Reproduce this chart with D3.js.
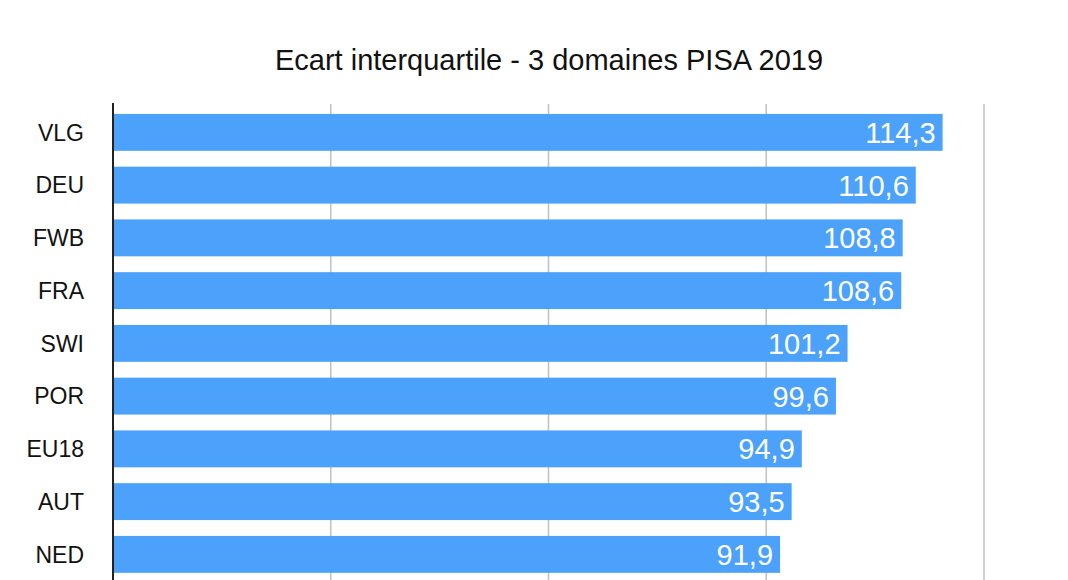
<!DOCTYPE html>
<html>
<head>
<meta charset="utf-8">
<script src="https://cdn.jsdelivr.net/npm/d3@7"></script>
<style>
  body { margin: 0; background: #fff; }
  text { font-family: 'Liberation Sans', Helvetica, Arial, sans-serif; }
</style>
</head>
<body>
<div id="chart"></div>
<script>
const countries = ['VLG', 'DEU', 'FWB', 'FRA', 'SWI', 'POR', 'EU18', 'AUT', 'NED']
const values = [114.3, 110.6, 108.8, 108.6, 101.2, 99.6, 94.9, 93.5, 91.9]
const gridTicks = [30, 60, 90, 120]

const width = 1068
const height = 580

const svg = d3
  .select('#chart')
  .append('svg')
  .attr('width', width)
  .attr('height', height)

const x = d3.scaleLinear().domain([0, 120]).range([113, 984])
const y = d3
  .scaleBand()
  .domain(countries)
  .range([106, 580.75])
  .paddingInner(0.3)
  .paddingOuter(0.15)

// title
svg
  .append('text')
  .attr('x', 549)
  .attr('y', 70)
  .attr('text-anchor', 'middle')
  .style('font-size', '29px')
  .attr('fill', '#111')
  .text('Ecart interquartile - 3 domaines PISA 2019')

// vertical grid lines
svg
  .append('g')
  .selectAll('line')
  .data(gridTicks)
  .join('line')
  .attr('x1', (d) => x(d))
  .attr('x2', (d) => x(d))
  .attr('y1', 104)
  .attr('y2', height)
  .attr('stroke', '#c3c3c3')
  .attr('stroke-width', 1.6)

const rows = countries.map((c, i) => ({ name: c, value: values[i] }))

svg
  .append('g')
  .selectAll('rect')
  .data(rows)
  .join('rect')
  .attr('x', x(0))
  .attr('y', (d) => y(d.name))
  .attr('width', (d) => x(d.value) - x(0))
  .attr('height', y.bandwidth())
  .attr('fill', '#4ca2fa')

// category labels
svg
  .append('g')
  .selectAll('text')
  .data(rows)
  .join('text')
  .attr('x', 84)
  .attr('y', (d) => y(d.name) + y.bandwidth() / 2)
  .attr('dy', '0.36em')
  .attr('text-anchor', 'end')
  .style('font-size', '23px')
  .attr('fill', '#111')
  .text((d) => d.name)

// value labels inside bars
const fmt = (v) => v.toFixed(1).replace('.', ',')
svg
  .append('g')
  .selectAll('text')
  .data(rows)
  .join('text')
  .attr('x', (d) => x(d.value) - 7)
  .attr('y', (d) => y(d.name) + y.bandwidth() / 2)
  .attr('dy', '0.36em')
  .attr('text-anchor', 'end')
  .style('font-size', '29px')
  .attr('fill', '#fff')
  .text((d) => fmt(d.value))

// zero axis line
svg
  .append('line')
  .attr('x1', x(0))
  .attr('x2', x(0))
  .attr('y1', 103)
  .attr('y2', height)
  .attr('stroke', '#222')
  .attr('stroke-width', 2)
</script>
</body>
</html>
